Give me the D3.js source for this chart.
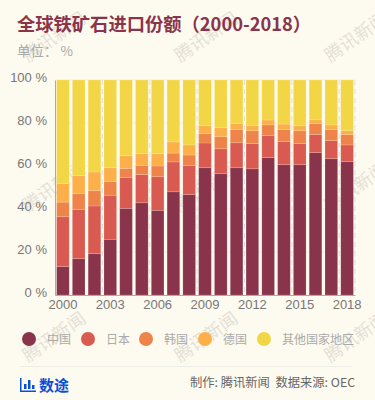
<!DOCTYPE html>
<html>
<head>
<meta charset="utf-8">
<script src="https://cdnjs.cloudflare.com/ajax/libs/d3/7.8.5/d3.min.js"></script>
<style>
    html, body { margin: 0; padding: 0; background: #fdfaef; }
    svg { display: block; font-family: "Noto Sans CJK SC", "Noto Sans", sans-serif; }
</style>
</head>
<body>
<div id="container"></div>
<script>
const years = d3.range(2000, 2019).map(String);
const yTicks = [0, 20, 40, 60, 80, 100];

const china = [13.2, 16.9, 19.2, 25.9, 40.3, 42.9, 39.4, 48, 46.7, 59.2, 56.4, 59.2, 58.7, 63.9, 60.6, 60.6, 66.2, 63.4, 62];
const japan = [23.2, 22.9, 22.2, 20.5, 14.3, 13.1, 15.6, 13.9, 13.5, 11.5, 11.6, 11.6, 11.7, 10.2, 10.7, 9.8, 8.5, 8.4, 7.8];
const korea = [6.8, 7.3, 7.1, 6.3, 4.3, 4.3, 5, 4.1, 4.9, 4.3, 5.6, 6.1, 6, 5, 5.6, 6, 5, 5.1, 4.8];
const germany = [8.7, 8.4, 8.7, 6.5, 5.9, 5.4, 5.7, 5.2, 4.7, 3.7, 4.2, 2.9, 2.5, 2.3, 2.6, 2.3, 1.8, 2.2, 1.8];
const others = [48.1, 44.5, 42.8, 40.8, 35.2, 34.3, 34.3, 28.8, 30.2, 21.3, 22.2, 20.2, 21.1, 18.6, 20.5, 21.3, 18.5, 20.9, 23.6];

const seriesNames = ["中国", "日本", "韩国", "德国", "其他国家地区"];
const seriesValues = [china, japan, korea, germany, others];
const seriesColors = ["#8a344c", "#d95a50", "#ee8449", "#fdb04a", "#f3d645"];
const legendX = [29, 88, 146, 205, 264];

const markX = [55, 207, 357];
const markY = [38, 188, 338];

const svg = d3.select("#container").append("svg")
    .attr("width", 375)
    .attr("height", 400);

const x = d3.scaleBand().domain(years).range([55, 355]).paddingInner(0.2).paddingOuter(0.1);
const y = d3.scaleLinear().domain([0, 100]).range([295, 80]);

// watermark, sits behind the bars
markY.forEach(my => {
    markX.forEach(mx => {
        svg.append("text")
            .attr("transform", `translate(${mx},${my}) rotate(-35)`)
            .attr("text-anchor", "middle")
            .attr("dominant-baseline", "middle")
            .attr("font-size", 18)
            .attr("fill", "#000")
            .attr("opacity", 0.1)
            .text("腾讯新闻");
    });
});

// title
svg.append("text")
    .attr("x", 17).attr("y", 31)
    .attr("font-size", 18.3).attr("font-weight", 700)
    .attr("fill", "#8a344c")
    .text("全球铁矿石进口份额（2000-2018）");

svg.append("text")
    .attr("x", 17).attr("y", 56)
    .attr("font-size", 13.5)
    .attr("fill", "#aaa")
    .text("单位： %");

// grid
svg.append("g").selectAll("line")
    .data(yTicks.slice(1))
    .join("line")
    .attr("x1", 55).attr("x2", 355)
    .attr("y1", d => y(d)).attr("y2", d => y(d))
    .attr("stroke", "#f1efe6");

const gap = x.step() - x.bandwidth();
svg.append("g").selectAll("line")
    .data(years.filter((d, i) => i % 3 == 0 && i > 0).concat(["end"]))
    .join("line")
    .attr("x1", d => d == "end" ? 355 : x(d) - gap / 2)
    .attr("x2", d => d == "end" ? 355 : x(d) - gap / 2)
    .attr("y1", 80).attr("y2", 295)
    .attr("stroke", "#ddd")
    .attr("stroke-width", 1)
    .attr("stroke-dasharray", "5,4");

// stacked bars
const table = years.map((d, i) => {
    const row = { year: d };
    seriesNames.forEach((n, j) => { row[n] = seriesValues[j][i]; });
    return row;
});
const stacked = d3.stack().keys(seriesNames)(table);

svg.append("g").selectAll("g")
    .data(stacked)
    .join("g")
    .attr("fill", (d, i) => seriesColors[i])
    .selectAll("rect")
    .data(d => d)
    .join("rect")
    .attr("x", d => x(d.data.year))
    .attr("width", x.bandwidth())
    .attr("y", d => y(d[1]))
    .attr("height", d => y(d[0]) - y(d[1]))
    .attr("stroke", "#fff")
    .attr("stroke-opacity", 0.2)
    .attr("stroke-width", 0.75);

// axes
const yAxis = svg.append("g")
    .attr("transform", "translate(55,0)")
    .call(d3.axisLeft(y).tickValues(yTicks).tickSize(0).tickPadding(8).tickFormat(d => d + " %"));
yAxis.select(".domain").attr("stroke", "#aaa");
yAxis.selectAll("text").attr("font-size", 13).attr("fill", "#777").attr("font-family", "inherit").attr("dy", "0.1em");

const xAxis = svg.append("g")
    .attr("transform", "translate(0,295)")
    .call(d3.axisBottom(x).tickValues(years.filter((d, i) => i % 3 == 0)).tickSize(0).tickPadding(5));
xAxis.select(".domain").attr("stroke", "#aaa");
xAxis.selectAll("text").attr("font-size", 13).attr("fill", "#777").attr("font-family", "inherit");

// legend
const legend = svg.append("g").selectAll("g")
    .data(seriesNames)
    .join("g")
    .attr("transform", (d, i) => `translate(${legendX[i]},339)`);
legend.append("circle").attr("r", 7).attr("fill", (d, i) => seriesColors[i]);
legend.append("text")
    .attr("x", 18).attr("y", 4.5)
    .attr("font-size", 12)
    .attr("fill", "#aaa")
    .text(d => d);

// footer
svg.append("line")
    .attr("x1", 20).attr("x2", 352)
    .attr("y1", 366.5).attr("y2", 366.5)
    .attr("stroke", "#eeeee8");

const icon = svg.append("g").attr("fill", "#0b4fd6");
icon.append("rect").attr("x", 20).attr("y", 378).attr("width", 1.5).attr("height", 14);
icon.append("rect").attr("x", 20).attr("y", 390.5).attr("width", 16).attr("height", 1.5);
icon.append("rect").attr("x", 24).attr("y", 384).attr("width", 2.5).attr("height", 5);
icon.append("rect").attr("x", 28).attr("y", 380).attr("width", 2.5).attr("height", 9);
icon.append("rect").attr("x", 32).attr("y", 385).attr("width", 2.5).attr("height", 4);

svg.append("text")
    .attr("x", 39).attr("y", 390.5)
    .attr("font-size", 15).attr("font-weight", 700)
    .attr("fill", "#0b4fd6")
    .text("数途");

svg.append("text")
    .attr("x", 355).attr("y", 387)
    .attr("text-anchor", "end")
    .attr("font-size", 12.3)
    .attr("fill", "#666")
    .text("制作: 腾讯新闻\u00a0\u00a0数据来源: OEC");
</script>
</body>
</html>
